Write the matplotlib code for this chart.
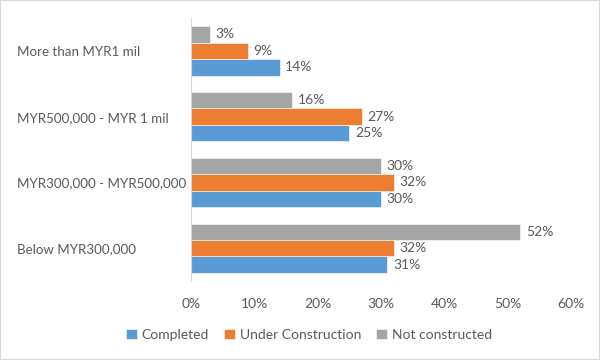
import numpy as np
import matplotlib.pyplot as plt
from matplotlib.patches import Rectangle

# dane
categories = ["Below MYR300,000", "MYR300,000 - MYR500,000", "MYR500,000 - MYR 1 mil", "More than MYR1 mil"]
completed = [31, 30, 25, 14]
under_construction = [32, 32, 27, 9]
not_constructed = [52, 30, 16, 3]
series_names = ["Completed", "Under Construction", "Not constructed"]
colors = ["#5B9BD5", "#ED7D31", "#A5A5A5"]
xticks = [0, 10, 20, 30, 40, 50, 60]

plt.rcParams["font.family"] = ["Lato", "DejaVu Sans"]
text_color = "#595959"
fs = 10

fig = plt.figure(figsize=(6, 3.6), dpi=100)
fig.patches.append(Rectangle((0, 0), 1, 1, transform=fig.transFigure, fill=False,
                             edgecolor="#D9D9D9", linewidth=1.5))
ax = fig.add_axes([0.318, 0.219, 0.634, 0.731])

y = np.arange(len(categories))
h = 0.25
for i, (vals, name, c) in enumerate(zip([completed, under_construction, not_constructed], series_names, colors)):
    pos = y + (i - 1) * h
    ax.barh(pos, vals, height=h, color=c, label=name, edgecolor="white", linewidth=0.4)
    for p, v in zip(pos, vals):
        ax.text(v + 0.9, p, f"{v}%", va="center", ha="left", fontsize=fs, color=text_color)

ax.set_xlim(0, 60)
ax.set_ylim(-0.5, 3.5)
ax.set_xticks(xticks)
ax.set_xticklabels([f"{t}%" for t in xticks], fontsize=fs, color=text_color)
ax.set_yticks(y)
ax.set_yticklabels(categories, fontsize=9.6, color=text_color, ha="left")
ax.tick_params(axis="y", length=0, pad=125)
ax.tick_params(axis="x", length=0, pad=12)
for s in ["top", "right", "bottom"]:
    ax.spines[s].set_visible(False)
ax.spines["left"].set_color("#D9D9D9")

leg = fig.legend(loc="center", bbox_to_anchor=(0.515, 0.07), ncol=3, frameon=False,
                 fontsize=fs, handlelength=0.8, handleheight=0.8, handletextpad=0.3,
                 columnspacing=1.1)
for t in leg.get_texts():
    t.set_color(text_color)

plt.savefig("out.png", dpi=100)
plt.close()
